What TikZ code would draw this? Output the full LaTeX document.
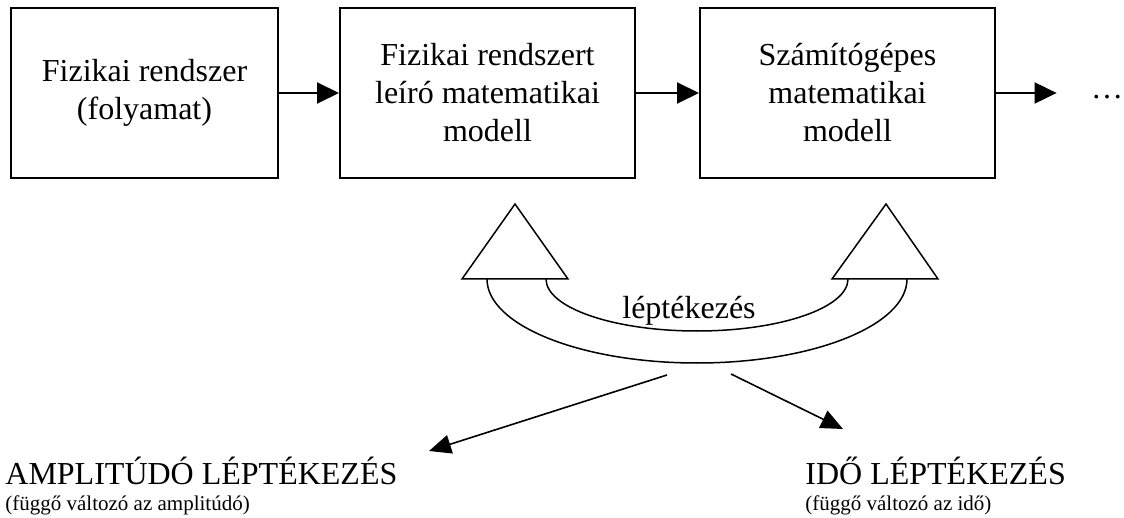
\documentclass[tikz,border=0pt]{standalone}
\usepackage{fontspec}
\setmainfont{Liberation Serif}
\usetikzlibrary{arrows.meta,positioning}

\begin{document}
\begin{tikzpicture}[x=0.5pt,y=-0.5pt,
    blockbox/.style={draw,line width=1pt,minimum height=85pt,align=center,
      font=\fontsize{16}{19}\selectfont},
    flowarrow/.style={-{Triangle[length=11pt,width=10.5pt]},line width=1pt},
    scalearrow/.style={-{Triangle[length=11pt,width=9.5pt]},line width=0.8pt},
    bandline/.style={line width=0.75pt},
    bigtext/.style={font=\fontsize{16}{19}\selectfont,inner sep=0pt},
    smalltext/.style={font=\fontsize{10.5}{12}\selectfont,inner sep=0pt}]
  \useasboundingbox (0,0) rectangle (1124,518);

  % blocks in the top row
  \node[blockbox,minimum width=133.5pt] (sys) at (144.5,93) {Fizikai rendszer\\(folyamat)};
  \node[blockbox,minimum width=147.5pt] (mathmodel) at (487.5,93) {Fizikai rendszert\\leíró matematikai\\modell};
  \node[blockbox,minimum width=147.5pt] (compmodel) at (847.5,93) {Számítógépes\\matematikai\\modell};
  \node[bigtext,anchor=base] (dots) at (1107,99) {\dots};

  \draw[flowarrow] (sys) -- (mathmodel);
  \draw[flowarrow] (mathmodel) -- (compmodel);
  \draw[flowarrow,shorten >=17pt] (compmodel.east) -- (compmodel.east -| dots.west);

  % double arrow for scaling
  \draw[bandline] (462,279) -- (515,204) -- (568,279) -- cycle;
  \draw[bandline] (832,279) -- (886,204) -- (938,279) -- cycle;
  \draw[bandline] (487,279) arc[start angle=180,end angle=360,x radius=105pt,y radius=42pt];
  \draw[bandline] (546,279) arc[start angle=180,end angle=360,x radius=75.5pt,y radius=26pt];
  \node[bigtext,anchor=base] (scaling) at (689,318) {léptékezés};

  % the two kinds of scaling
  \coordinate (ampfrom) at (667,375);
  \coordinate (amptip) at (429,451);
  \coordinate (idofrom) at (731,374);
  \coordinate (idotip) at (843,429);
  \draw[scalearrow] (ampfrom) -- (amptip);
  \draw[scalearrow] (idofrom) -- (idotip);

  \node[bigtext,anchor=base west] (amp) at (5,484) {AMPLITÚDÓ LÉPTÉKEZÉS};
  \node[smalltext,anchor=base west] (ampnote) at (5,510) {(függő változó az amplitúdó)};
  \node[bigtext,anchor=base west] (ido) at (805,484) {IDŐ LÉPTÉKEZÉS};
  \node[smalltext,anchor=base west] (idonote) at (805,510) {(függő változó az idő)};
\end{tikzpicture}
\end{document}
